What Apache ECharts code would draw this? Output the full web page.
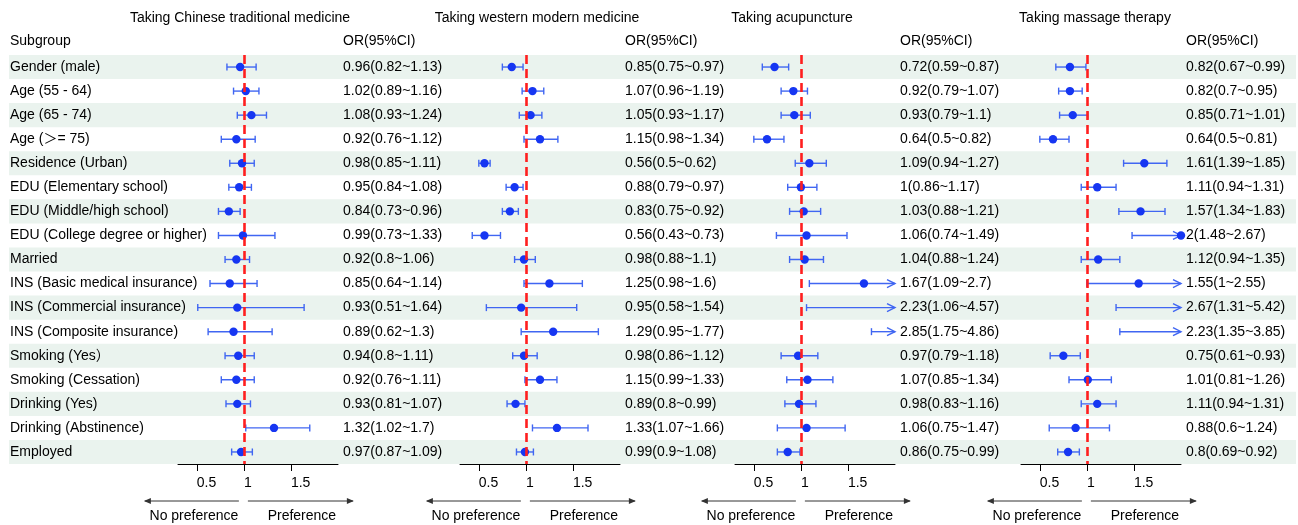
<!DOCTYPE html>
<html>
<head>
<meta charset="utf-8">
<script src="https://cdn.jsdelivr.net/npm/echarts@6/dist/echarts.min.js"></script>
<style>
  html, body { margin: 0; padding: 0; background: #fff; }
  #forest { width: 1298px; height: 525px; }
</style>
</head>
<body>
<div id="forest"></div>
<script>
// 亚组 / subgroups
const subgroups = [
  "Gender (male)", "Age (55 - 64)", "Age (65 - 74)", "Age (\uFF1E= 75)",
  "Residence (Urban)", "EDU (Elementary school)", "EDU (Middle/high school)",
  "EDU (College degree or higher)", "Married", "INS (Basic medical insurance)",
  "INS (Commercial insurance)", "INS (Composite insurance)", "Smoking (Yes\uFF09",
  "Smoking (Cessation)", "Drinking (Yes)", "Drinking (Abstinence)", "Employed"
];
const panelTitles = [
  "Taking Chinese traditional medicine", "Taking western modern medicine",
  "Taking acupuncture", "Taking massage therapy"
];
const tickValues = [0.5, 1, 1.5];

// Chinese traditional medicine
const orTcm = [0.96, 1.02, 1.08, 0.92, 0.98, 0.95, 0.84, 0.99, 0.92, 0.85, 0.93, 0.89, 0.94, 0.92, 0.93, 1.32, 0.97];
const loTcm = [0.82, 0.89, 0.93, 0.76, 0.85, 0.84, 0.73, 0.73, 0.8, 0.64, 0.51, 0.62, 0.8, 0.76, 0.81, 1.02, 0.87];
const hiTcm = [1.13, 1.16, 1.24, 1.12, 1.11, 1.08, 0.96, 1.33, 1.06, 1.14, 1.64, 1.3, 1.11, 1.11, 1.07, 1.7, 1.09];
// western modern medicine
const orWest = [0.85, 1.07, 1.05, 1.15, 0.56, 0.88, 0.83, 0.56, 0.98, 1.25, 0.95, 1.29, 0.98, 1.15, 0.89, 1.33, 0.99];
const loWest = [0.75, 0.96, 0.93, 0.98, 0.5, 0.79, 0.75, 0.43, 0.88, 0.98, 0.58, 0.95, 0.86, 0.99, 0.8, 1.07, 0.9];
const hiWest = [0.97, 1.19, 1.17, 1.34, 0.62, 0.97, 0.92, 0.73, 1.1, 1.6, 1.54, 1.77, 1.12, 1.33, 0.99, 1.66, 1.08];
// acupuncture
const orAcu = [0.72, 0.92, 0.93, 0.64, 1.09, 1, 1.03, 1.06, 1.04, 1.67, 2.23, 2.85, 0.97, 1.07, 0.98, 1.06, 0.86];
const loAcu = [0.59, 0.79, 0.79, 0.5, 0.94, 0.86, 0.88, 0.74, 0.88, 1.09, 1.06, 1.75, 0.79, 0.85, 0.83, 0.75, 0.75];
const hiAcu = [0.87, 1.07, 1.1, 0.82, 1.27, 1.17, 1.21, 1.49, 1.24, 2.7, 4.57, 4.86, 1.18, 1.34, 1.16, 1.47, 0.99];
// massage therapy
const orMas = [0.82, 0.82, 0.85, 0.64, 1.61, 1.11, 1.57, 2, 1.12, 1.55, 2.67, 2.23, 0.75, 1.01, 1.11, 0.88, 0.8];
const loMas = [0.67, 0.7, 0.71, 0.5, 1.39, 0.94, 1.34, 1.48, 0.94, 1, 1.31, 1.35, 0.61, 0.81, 0.94, 0.6, 0.69];
const hiMas = [0.99, 0.95, 1.01, 0.81, 1.85, 1.31, 1.83, 2.67, 1.35, 2.55, 5.42, 3.85, 0.93, 1.26, 1.31, 1.24, 0.92];

const panels = [
  [orTcm, loTcm, hiTcm],
  [orWest, loWest, hiWest],
  [orAcu, loAcu, hiAcu],
  [orMas, loMas, hiMas],
];

const XMIN = 0.3;
const XMAX = 2;
const FONT = '"Liberation Sans", Arial, "Noto Sans CJK SC", sans-serif';
const panelLeft = [178, 460, 735, 1021];
const panelWidth = 160;
const gridTop = 55;
const gridHeight = 409;
const dotColor = "#1636f2";
const barColor = "#4066f2";

const myChart = echarts.init(document.getElementById("forest"));

const grids = [];
const xAxes = [];
const yAxes = [];
const series = [];

panels.forEach(function (p, k) {
  grids.push({ left: panelLeft[k], top: gridTop, width: panelWidth, height: gridHeight });
  xAxes.push({
    gridIndex: k,
    type: "value",
    min: XMIN,
    max: XMAX,
    splitLine: { show: false },
    axisLine: { show: true, onZero: false, lineStyle: { color: "#000", width: 1 } },
    axisTick: { show: true, customValues: tickValues, length: 7, lineStyle: { color: "#000" } },
    axisLabel: {
      customValues: tickValues,
      align: "left",
      margin: 12,
      color: "#000",
      fontSize: 14,
      fontFamily: FONT,
    },
  });
  // 左轴：第一个面板显示亚组名称
  yAxes.push({
    gridIndex: k,
    type: "category",
    inverse: true,
    data: subgroups,
    show: k === 0,
    axisLine: { show: false },
    axisTick: { show: false },
    axisLabel: { align: "left", margin: panelLeft[0] - 10, color: "#000", fontSize: 14, fontFamily: FONT },
  });
  // 右轴：OR(95%CI) 文本
  yAxes.push({
    gridIndex: k,
    type: "category",
    inverse: true,
    position: "right",
    data: p[0].map(function (v, i) { return v + "(" + p[1][i] + "~" + p[2][i] + ")"; }),
    axisLine: { show: false },
    axisTick: { show: false },
    axisLabel: { align: "left", margin: 5, color: "#000", fontSize: 14, fontFamily: FONT },
  });

  series.push({
    type: "custom",
    xAxisIndex: k,
    yAxisIndex: 2 * k,
    clip: false,
    z: 3,
    silent: true,
    encode: { x: 1, y: 0 },
    data: p[0].map(function (v, i) { return [i, v, p[1][i], p[2][i]]; }),
    renderItem: function (params, api) {
      const row = api.value(0);
      const or = api.value(1);
      const lo = api.value(2);
      const hi = api.value(3);
      const a = api.coord([lo, row]);
      const b = api.coord([Math.min(hi, XMAX), row]);
      const c = api.coord([or, row]);
      const ls = { stroke: barColor, lineWidth: 1.4 };
      const children = [
        { type: "line", shape: { x1: a[0], y1: a[1], x2: b[0], y2: b[1] }, style: ls },
        { type: "line", shape: { x1: a[0], y1: a[1] - 3.5, x2: a[0], y2: a[1] + 3.5 }, style: ls },
      ];
      if (hi <= XMAX) {
        children.push({ type: "line", shape: { x1: b[0], y1: b[1] - 3.5, x2: b[0], y2: b[1] + 3.5 }, style: ls });
      } else {
        children.push({
          type: "polyline",
          shape: { points: [[b[0] - 8, b[1] - 4], [b[0], b[1]], [b[0] - 8, b[1] + 4]] },
          style: { stroke: barColor, lineWidth: 1.4, fill: null },
        });
      }
      if (or <= XMAX) {
        children.push({ type: "circle", shape: { cx: c[0], cy: c[1], r: 4.2 }, style: { fill: dotColor } });
      }
      return { type: "group", children: children };
    },
  });

  // 红色虚线 OR = 1
  series.push({
    type: "line",
    xAxisIndex: k,
    yAxisIndex: 2 * k,
    data: [],
    z: 5,
    silent: true,
    markLine: {
      silent: true,
      symbol: "none",
      label: { show: false },
      lineStyle: { color: "#ff1f1f", type: [9, 5], width: 2.6 },
      data: [{ xAxis: 1 }],
    },
  });
});

// 背景条纹
grids.push({ left: 9, right: 2, top: gridTop, height: gridHeight });
xAxes.push({ gridIndex: 4, type: "value", min: 0, max: 1, show: false });
yAxes.push({ gridIndex: 4, type: "category", inverse: true, data: subgroups, show: false });
series.push({
  type: "bar",
  xAxisIndex: 4,
  yAxisIndex: 8,
  silent: true,
  z: 0,
  barWidth: "100%",
  itemStyle: { color: "#eaf3ee" },
  data: subgroups.map(function (s, i) { return i % 2 === 0 ? 1 : 0; }),
});

const textStyle = function (text, x, y, align) {
  return {
    type: "text",
    x: x,
    y: y,
    silent: true,
    style: { text: text, fill: "#000", font: "14px " + FONT, align: align, verticalAlign: "middle" },
  };
};

const option = {
  animation: false,
  grid: grids,
  xAxis: xAxes,
  yAxis: yAxes,
  series: series,
};
myChart.setOption(option);

// 标题、表头与箭头
const graphics = [textStyle("Subgroup", 10, 41, "left")];
panels.forEach(function (p, k) {
  const x1 = myChart.convertToPixel({ xAxisIndex: k }, 1);
  const xr = myChart.convertToPixel({ xAxisIndex: k }, XMAX);
  graphics.push(textStyle(panelTitles[k], [240, 537, 792, 1095][k], 18, "center"));
  graphics.push(textStyle("OR(95%CI)", xr + 5, 41, "left"));
  const ay = 501;
  const arrowStyle = { stroke: "#333", lineWidth: 1 };
  graphics.push({ type: "line", silent: true, shape: { x1: x1 - 99, y1: ay, x2: x1 - 5, y2: ay }, style: arrowStyle });
  graphics.push({ type: "polygon", silent: true, shape: { points: [[x1 - 100, ay], [x1 - 93, ay - 3], [x1 - 93, ay + 3]] }, style: { fill: "#333" } });
  graphics.push({ type: "line", silent: true, shape: { x1: x1 + 4, y1: ay, x2: x1 + 109, y2: ay }, style: arrowStyle });
  graphics.push({ type: "polygon", silent: true, shape: { points: [[x1 + 110, ay], [x1 + 103, ay - 3], [x1 + 103, ay + 3]] }, style: { fill: "#333" } });
  graphics.push(textStyle("No preference", x1 - 50, 516, "center"));
  graphics.push(textStyle("Preference", x1 + 58, 516, "center"));
});
myChart.setOption({ graphic: graphics });
</script>
</body>
</html>
